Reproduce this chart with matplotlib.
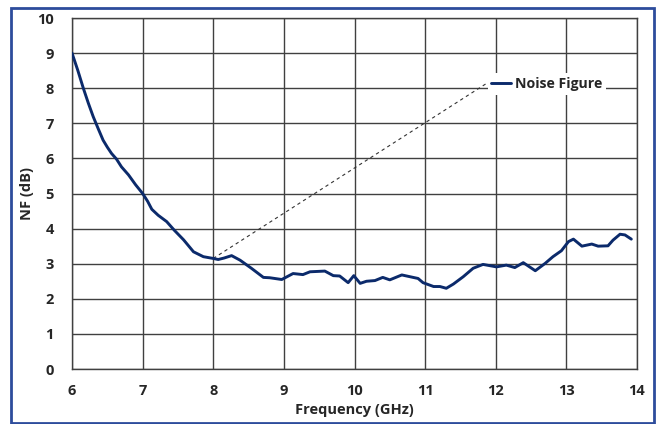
import matplotlib
matplotlib.use("Agg")
import matplotlib.pyplot as plt
from matplotlib.patches import Rectangle

# measured noise figure vs frequency
freq_ghz = [6.00, 6.08, 6.16, 6.23, 6.30, 6.37, 6.44, 6.50, 6.56, 6.63, 6.70, 6.80,
            6.90, 7.00, 7.07, 7.13, 7.22, 7.34, 7.45, 7.58, 7.72, 7.86, 8.00, 8.07,
            8.15, 8.26, 8.38, 8.54, 8.71, 8.80, 8.97, 9.13, 9.27, 9.37, 9.58, 9.70,
            9.79, 9.91, 9.99, 10.08, 10.17, 10.29, 10.40, 10.50, 10.67, 10.83, 10.90,
            10.97, 11.12, 11.21, 11.30, 11.40, 11.54, 11.68, 11.82, 12.01, 12.15, 12.27,
            12.39, 12.56, 12.70, 12.81, 12.93, 13.03, 13.10, 13.22, 13.36, 13.45, 13.59,
            13.66, 13.76, 13.83, 13.92]
nf_db = [9.00, 8.52, 8.00, 7.58, 7.19, 6.85, 6.52, 6.32, 6.14, 5.98, 5.76, 5.53,
         5.25, 5.00, 4.78, 4.55, 4.38, 4.20, 3.95, 3.68, 3.34, 3.20, 3.15, 3.12,
         3.16, 3.23, 3.10, 2.87, 2.61, 2.60, 2.55, 2.72, 2.69, 2.77, 2.79, 2.66,
         2.65, 2.46, 2.66, 2.44, 2.50, 2.52, 2.61, 2.54, 2.68, 2.61, 2.58,
         2.46, 2.35, 2.35, 2.30, 2.42, 2.63, 2.87, 2.98, 2.91, 2.96, 2.89,
         3.03, 2.80, 3.01, 3.20, 3.37, 3.63, 3.70, 3.50, 3.56, 3.50, 3.51,
         3.67, 3.84, 3.82, 3.70]

x_ticks = [6, 7, 8, 9, 10, 11, 12, 13, 14]
y_ticks = [0, 1, 2, 3, 4, 5, 6, 7, 8, 9, 10]
series_name = "Noise Figure"

# leader line runs from the 8 GHz point to the legend
leader_freq = 8.0
leader_end = (11.88, 8.15)

plt.rcParams['font.family'] = ['Open Sans', 'DejaVu Sans']
plt.rcParams['font.weight'] = 'bold'

fig = plt.figure(figsize=(6.62, 4.24), dpi=100)
ax = fig.add_axes([0.1088, 0.1297, 0.8534, 0.8278])

# blue frame around the whole chart
fig.patches.append(Rectangle((11 / 662, 1.5 / 424), 643 / 662, 414.5 / 424,
                             transform=fig.transFigure, fill=False,
                             edgecolor="#2D4C9C", linewidth=2.0))

ax.plot(freq_ghz, nf_db, color="#0B2A6B", linewidth=2.1, label=series_name,
        solid_capstyle="round", solid_joinstyle="round", zorder=3)

i = freq_ghz.index(leader_freq)
ax.plot([freq_ghz[i], leader_end[0]], [nf_db[i], leader_end[1]],
        color="#333333", linewidth=0.8, linestyle=(0, (3, 3)), zorder=2)

ax.set_xlim(6, 14)
ax.set_ylim(0, 10)
ax.set_xticks(x_ticks)
ax.set_yticks(y_ticks)
ax.grid(True, color="#404040", linewidth=1.0)
ax.set_axisbelow(True)
for s in ax.spines.values():
    s.set_color("#404040")
    s.set_linewidth(1.0)

ax.tick_params(length=0, labelsize=10.5, colors="#262626")
ax.tick_params(axis="y", pad=13)
ax.tick_params(axis="x", pad=11)
for lbl in ax.get_xticklabels() + ax.get_yticklabels():
    lbl.set_fontweight("bold")

ax.set_xlabel("Frequency (GHz)", fontsize=10.5, fontweight="bold", color="#262626")
ax.set_ylabel("NF (dB)", fontsize=10.5, fontweight="bold", color="#262626")
ax.xaxis.set_label_coords(0.5, -0.117)
ax.yaxis.set_label_coords(-0.08, 0.5)
ax.xaxis.label.set_va("center")
ax.yaxis.label.set_va("center")

leg = ax.legend(loc="center left", bbox_to_anchor=(0.736, 0.812), borderaxespad=0,
                borderpad=0.25, handlelength=1.4, handletextpad=0.3,
                frameon=True, fancybox=False, framealpha=1,
                prop={"weight": "bold", "size": 10.2})
leg.get_frame().set_facecolor("white")
leg.get_frame().set_edgecolor("none")
for t in leg.get_texts():
    t.set_color("#262626")

fig.savefig("out.png", dpi=100)
